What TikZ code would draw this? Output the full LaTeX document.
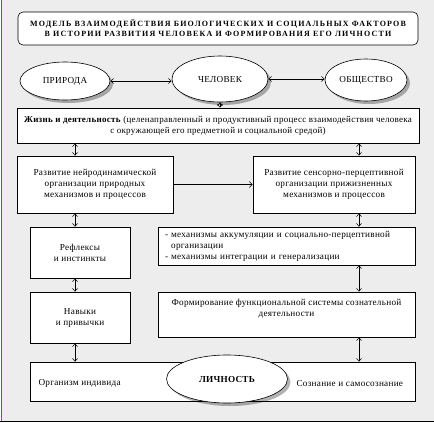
\documentclass[tikz,border=0pt]{standalone}
\usepackage{fontspec}
\setmainfont{Liberation Serif}[LetterSpace=3]
\usetikzlibrary{shapes.geometric,shadows,arrows.meta}
\tikzstyle{box} = [rectangle, draw, fill=white, inner sep=0pt, align=center, line width=0.6pt]
\tikzstyle{oval} = [ellipse, draw, fill=white, inner sep=0pt, line width=0.6pt, drop shadow={shadow xshift=3pt, shadow yshift=-3pt, fill=black, opacity=0.3}]
\tikzstyle{link} = [line width=0.5pt, {Straight Barb[length=3pt,width=5pt]}-{Straight Barb[length=3pt,width=5pt]}]
\tikzstyle{push} = [line width=0.5pt, -{Straight Barb[length=3pt,width=6pt]}]

\begin{document}
\begin{tikzpicture}[x=1pt,y=-1pt,every node/.style={font=\fontsize{9.2}{11}\selectfont}]
    \useasboundingbox (0,0) rectangle (434,423);
    \fill[gray!14] (1,0) rectangle (434,422);
    \draw[violet!40!gray, line width=1pt] (1,0) -- (1,421);
    \draw[black, line width=1.2pt] (0,421.5) -- (434,421.5);
    \node[box, rounded corners=5pt, minimum width=400, minimum height=33, font=\fontsize{8}{10}\selectfont\bfseries\addfontfeatures{LetterSpace=15}] (title) at (218,28.5)
        {МОДЕЛЬ ВЗАИМОДЕЙСТВИЯ БИОЛОГИЧЕСКИХ И СОЦИАЛЬНЫХ ФАКТОРОВ\\В ИСТОРИИ РАЗВИТИЯ ЧЕЛОВЕКА И ФОРМИРОВАНИЯ ЕГО ЛИЧНОСТИ};
    \node[oval, minimum width=90, minimum height=38] (nature) at (65,81) {ПРИРОДА};
    \node[oval, minimum width=96, minimum height=46] (man) at (220,79) {ЧЕЛОВЕК};
    \node[oval, minimum width=82, minimum height=42] (society) at (366,80) {ОБЩЕСТВО};
    \node[box, minimum width=402, minimum height=35, font=\fontsize{9}{11}\selectfont] (life) at (218,125.5)
        {\textbf{Жизнь и деятельность} (целенаправленный и продуктивный процесс взаимодействия человека\\с окружающей его предметной и социальной средой)};
    \node[box, minimum width=156, minimum height=57] (neuro-dev) at (95,184.5)
        {Развитие нейродинамической\\организации природных\\механизмов и процессов};
    \node[box, minimum width=162, minimum height=57] (sensor-dev) at (334,184.5)
        {Развитие сенсорно-перцептивной\\организации прижизненных\\механизмов и процессов};
    \node[box, minimum width=100, minimum height=51] (reflexes) at (80,252.5) {Рефлексы\\и инстинкты};
    \node[box, minimum width=257, minimum height=38, align=left, text width=243] (mechanisms) at (286.5,246)
        {-\ механизмы аккумуляции и социально-перцептивной\\\phantom{-\ }организации\\-\ механизмы интеграции и генерализации};
    \node[box, minimum width=100, minimum height=51] (habits) at (80,317.5) {Навыки\\и привычки};
    \node[box, minimum width=257, minimum height=45,
        label={[anchor=north, yshift=-4pt, align=center, font=\fontsize{9.2}{11}\selectfont]north:Формирование функциональной системы сознательной\\деятельности}] (forming) at (286.5,314.5) {};
    \node[box, minimum width=385, minimum height=39] (whole) at (222.5,381.5) {};
    \node[anchor=west] (organism) at (35,383) {Организм индивида};
    \node[anchor=west] (conscious) at (293,383) {Сознание и самосознание};
    \node[oval, minimum width=121, minimum height=48, font=\fontsize{9.2}{11}\selectfont\bfseries] (person) at (227,379) {ЛИЧНОСТЬ};
    \coordinate (left-axis) at (75,0);
    \coordinate (right-axis) at (359,0);
    \draw[link] (nature.east) -- (nature.east -| man.west);
    \draw[link] (man.east) -- (man.east -| society.west);
    \draw[link] (man.south) -- (man.south |- life.north);
    \draw[link] (life.south -| left-axis) -- (neuro-dev.north -| left-axis);
    \draw[link] (life.south -| right-axis) -- (sensor-dev.north -| right-axis);
    \draw[push] (neuro-dev.east) -- (sensor-dev.west);
    \draw[link] (neuro-dev.south -| left-axis) -- (reflexes.north -| left-axis);
    \draw[link] (sensor-dev.south -| right-axis) -- (mechanisms.north -| right-axis);
    \draw[link] (reflexes.south -| left-axis) -- (habits.north -| left-axis);
    \draw[link] (mechanisms.south -| right-axis) -- (forming.north -| right-axis);
    \draw[link] (habits.south -| left-axis) -- (whole.north -| left-axis);
    \draw[link] (forming.south -| right-axis) -- (whole.north -| right-axis);
\end{tikzpicture}
\end{document}
